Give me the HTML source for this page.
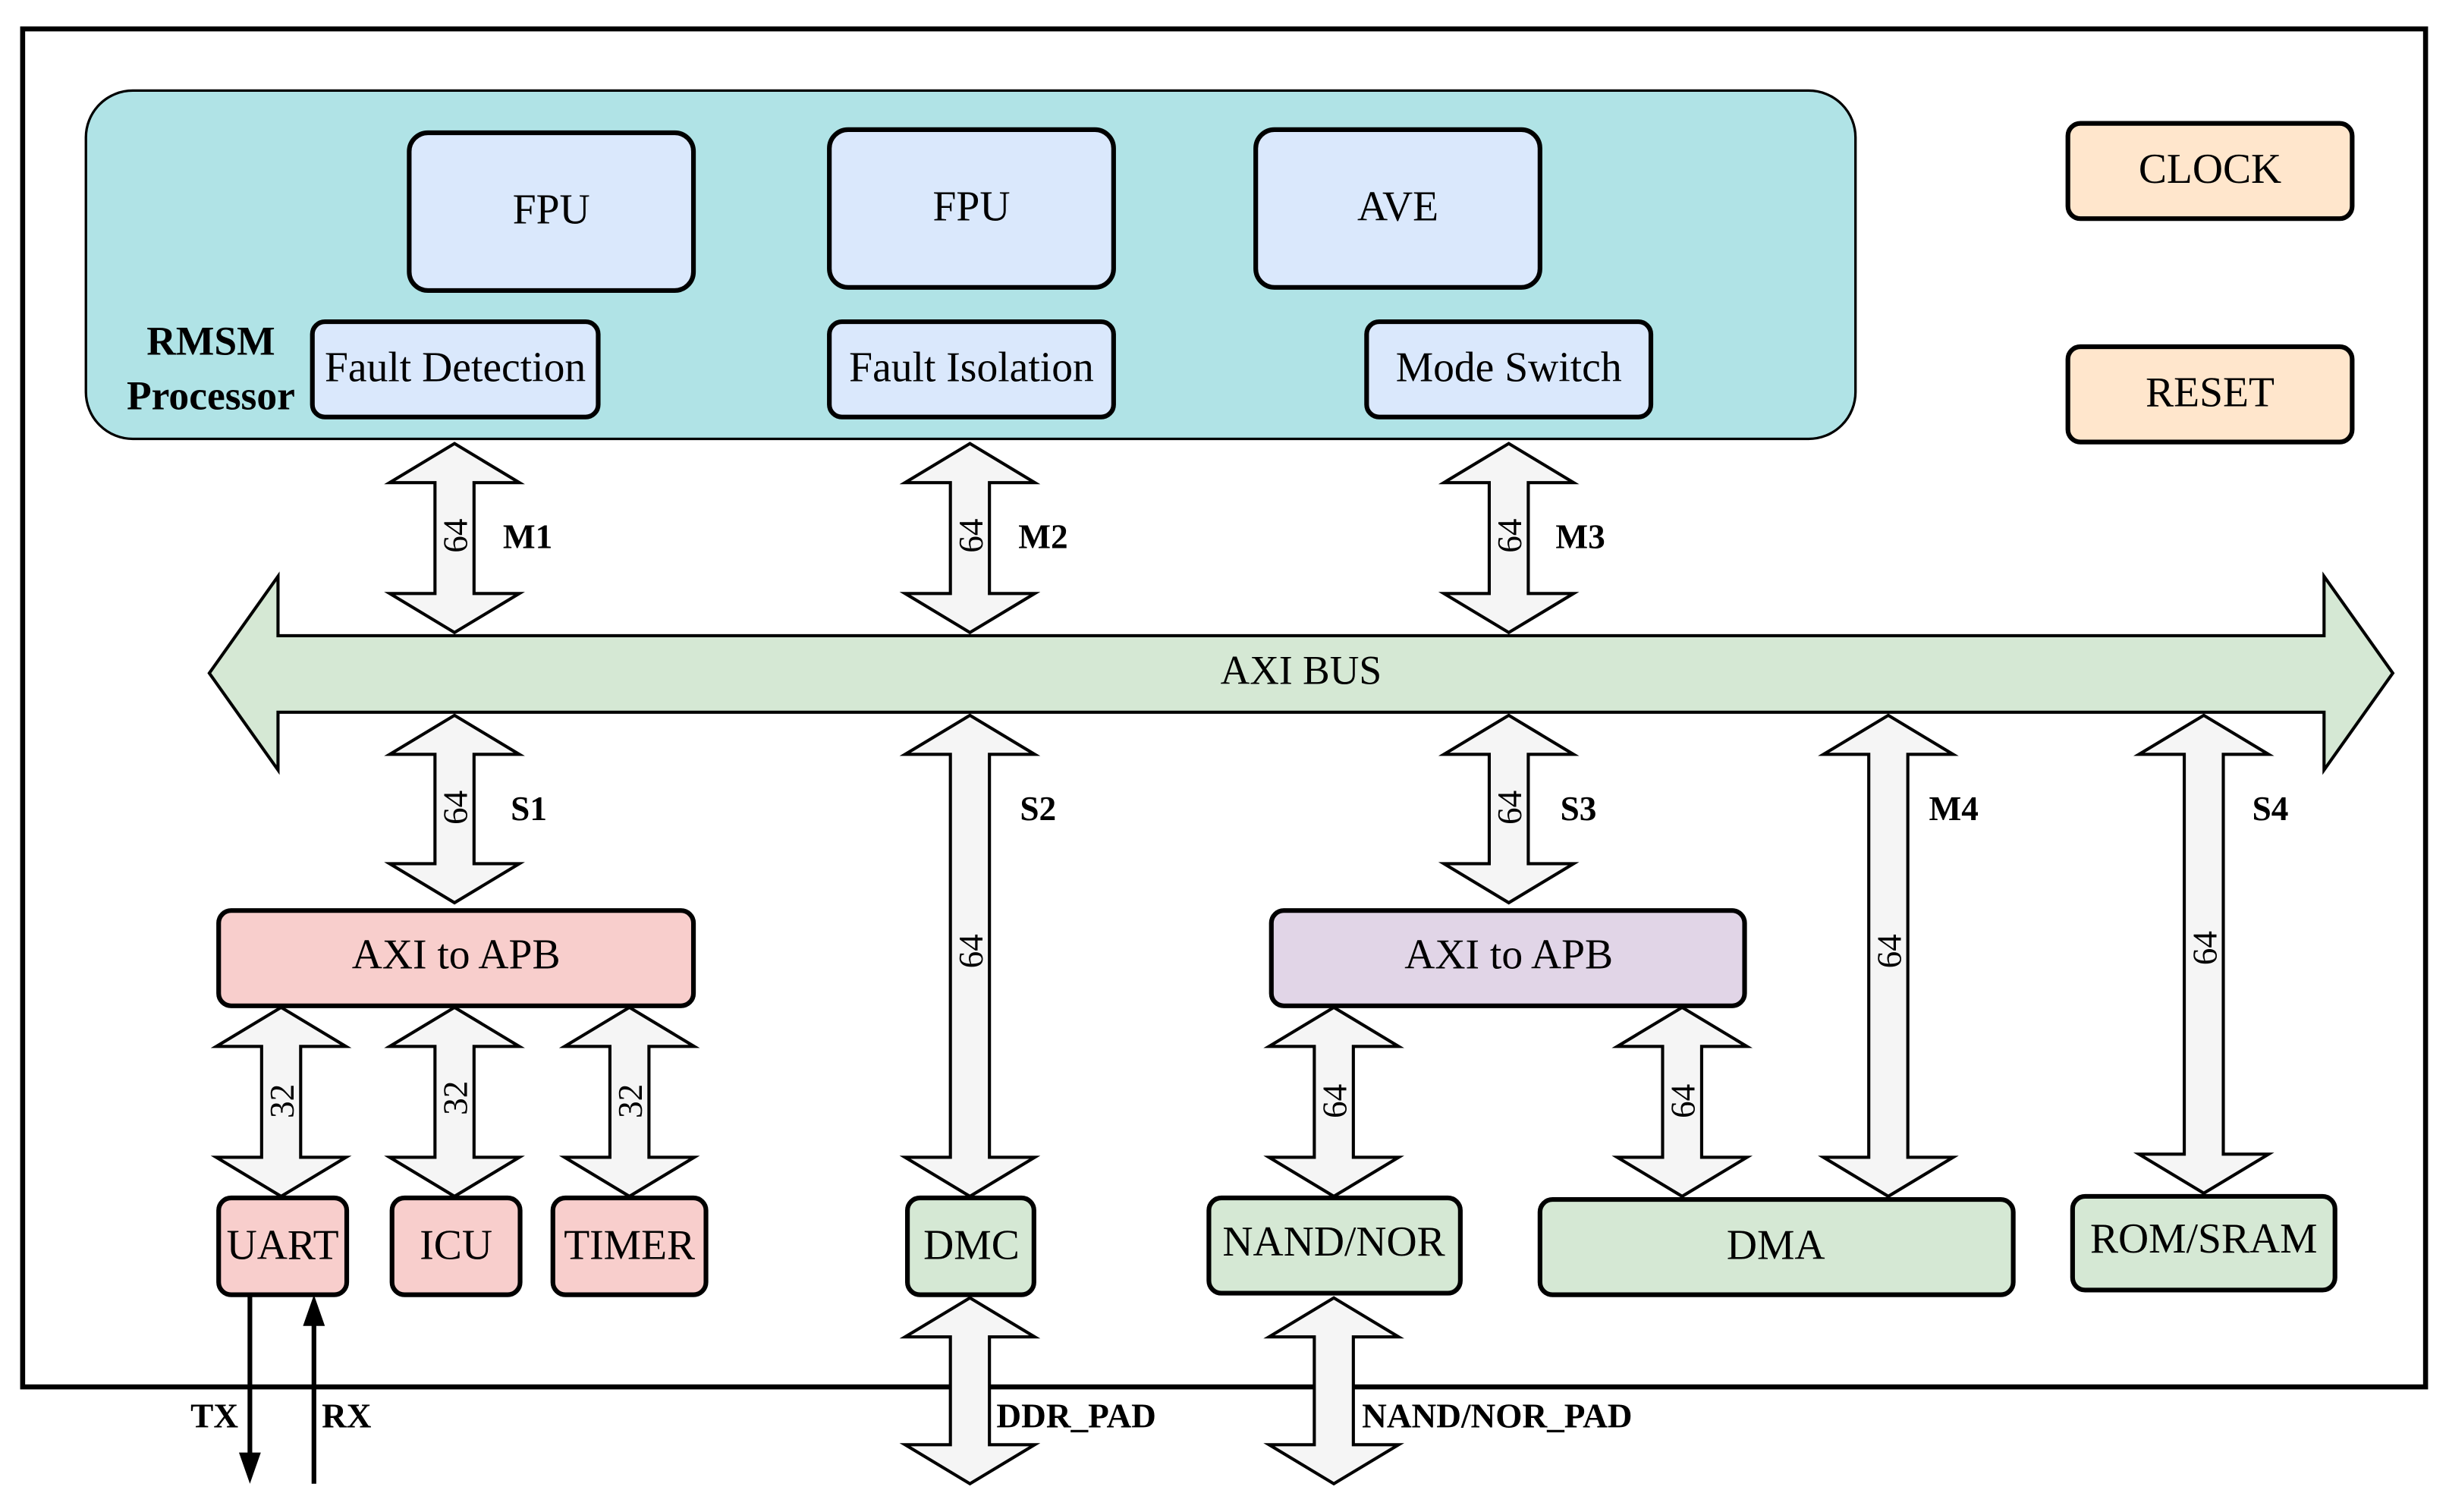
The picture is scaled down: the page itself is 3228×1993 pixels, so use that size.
<!DOCTYPE html>
<html><head><meta charset="utf-8"><style>html,body{margin:0;padding:0;background:#fff}svg{display:block}svg text{font-family:"Liberation Serif","Times New Roman",serif}</style></head>
<body>
<svg width="3228" height="1993" viewBox="0 0 1568 968.1" xmlns="http://www.w3.org/2000/svg">
<rect x="0" y="0" width="1568" height="968.1" fill="#fff"/>
<rect x="14.5" y="18.5" width="1538.5" height="869.5" fill="none" stroke="#000" stroke-width="3.2"/>
<rect x="55" y="58" width="1133" height="223" rx="30" fill="#b0e3e6" stroke="#000" stroke-width="1.6"/>
<g stroke="#000" stroke-width="3" fill="#dae8fc">
<rect x="262" y="85" width="182" height="101" rx="12"/>
<rect x="531" y="83" width="182" height="101" rx="12"/>
<rect x="804" y="83" width="182" height="101" rx="12"/>
<rect x="200" y="206" width="183" height="61" rx="8"/>
<rect x="531" y="206" width="182" height="61" rx="8"/>
<rect x="875" y="206" width="182" height="61" rx="8"/>
</g>
<g stroke="#000" stroke-width="3" fill="#ffe6cc">
<rect x="1324" y="79" width="182" height="61" rx="8"/>
<rect x="1324" y="222" width="182" height="61" rx="8"/>
</g>
<g font-size="27" text-anchor="middle" fill="#000">
<text x="353" y="143">FPU</text>
<text x="622" y="141">FPU</text>
<text x="895" y="141">AVE</text>
<text x="291.5" y="244">Fault Detection</text>
<text x="622" y="244">Fault Isolation</text>
<text x="966" y="244">Mode Switch</text>
<text x="1415" y="117">CLOCK</text>
<text x="1415" y="260">RESET</text>
</g>
<g font-size="26" font-weight="bold" text-anchor="middle">
<text x="135" y="227">RMSM</text>
<text x="135" y="262">Processor</text>
</g>
<polygon points="134,431 178,369 178,407 1488,407 1488,369 1532,431 1488,493 1488,456 178,456 178,493" fill="#d5e8d4" stroke="#000" stroke-width="2"/>
<text x="833" y="438" font-size="26" text-anchor="middle">AXI BUS</text>
<g fill="#f5f5f5" stroke="#000" stroke-width="2" stroke-linejoin="miter">
<path d="M291 284 l41.5 25 h-29 v71 h29 l-41.5 25 l-41.5 -25 h29 v-71 h-29 z"/>
<path d="M621 284 l41.5 25 h-29 v71 h29 l-41.5 25 l-41.5 -25 h29 v-71 h-29 z"/>
<path d="M966 284 l41.5 25 h-29 v71 h29 l-41.5 25 l-41.5 -25 h29 v-71 h-29 z"/>
<path d="M291 458 l41.5 25 h-29 v70 h29 l-41.5 25 l-41.5 -25 h29 v-70 h-29 z"/>
<path d="M966 458 l41.5 25 h-29 v70 h29 l-41.5 25 l-41.5 -25 h29 v-70 h-29 z"/>
<path d="M621 458 l41.5 25 h-29 v258 h29 l-41.5 25 l-41.5 -25 h29 v-258 h-29 z"/>
<path d="M1209 458 l41.5 25 h-29 v258 h29 l-41.5 25 l-41.5 -25 h29 v-258 h-29 z"/>
<path d="M1411 458 l41.5 25 h-29 v256 h29 l-41.5 25 l-41.5 -25 h29 v-256 h-29 z"/>
<path d="M180 645 l41.5 25 h-29 v71 h29 l-41.5 25 l-41.5 -25 h29 v-71 h-29 z"/>
<path d="M291 645 l41.5 25 h-29 v71 h29 l-41.5 25 l-41.5 -25 h29 v-71 h-29 z"/>
<path d="M403 645 l41.5 25 h-29 v71 h29 l-41.5 25 l-41.5 -25 h29 v-71 h-29 z"/>
<path d="M854 645 l41.5 25 h-29 v71 h29 l-41.5 25 l-41.5 -25 h29 v-71 h-29 z"/>
<path d="M1077 645 l41.5 25 h-29 v71 h29 l-41.5 25 l-41.5 -25 h29 v-71 h-29 z"/>
<path d="M621 831 l41.5 25 h-29 v69 h29 l-41.5 25 l-41.5 -25 h29 v-69 h-29 z"/>
<path d="M854 831 l41.5 25 h-29 v69 h29 l-41.5 25 l-41.5 -25 h29 v-69 h-29 z"/>
</g>
<g stroke="#000" stroke-width="3">
<rect x="140" y="583" width="304" height="61" rx="8" fill="#f8cecc"/>
<rect x="814" y="583" width="303" height="61" rx="8" fill="#e1d5e7"/>
<rect x="140" y="767" width="82" height="62" rx="8" fill="#f8cecc"/>
<rect x="251" y="767" width="82" height="62" rx="8" fill="#f8cecc"/>
<rect x="354" y="767" width="98" height="62" rx="8" fill="#f8cecc"/>
<rect x="581" y="767" width="81" height="62" rx="8" fill="#d5e8d4"/>
<rect x="774" y="767" width="161" height="61" rx="8" fill="#d5e8d4"/>
<rect x="986" y="768" width="303" height="61" rx="8" fill="#d5e8d4"/>
<rect x="1327" y="766" width="168" height="60" rx="8" fill="#d5e8d4"/>
</g>
<g font-size="27" text-anchor="middle">
<text x="292" y="620">AXI to APB</text>
<text x="966" y="620">AXI to APB</text>
<text x="181" y="806">UART</text>
<text x="292" y="806">ICU</text>
<text x="403" y="806">TIMER</text>
<text x="622" y="806">DMC</text>
<text x="854" y="804">NAND/NOR</text>
<text x="1137" y="806">DMA</text>
<text x="1411" y="802">ROM/SRAM</text>
</g>
<g stroke="#000" stroke-width="3">
<line x1="160" y1="829" x2="160" y2="932"/>
<line x1="201" y1="950" x2="201" y2="846"/>
</g>
<polygon points="153,930 167,930 160,950" fill="#000"/>
<polygon points="194,849 208,849 201,829" fill="#000"/>
<g font-size="22" font-weight="bold">
<text x="322" y="351">M1</text>
<text x="652" y="351">M2</text>
<text x="996" y="351">M3</text>
<text x="327" y="525">S1</text>
<text x="653" y="525">S2</text>
<text x="999" y="525">S3</text>
<text x="1235" y="525">M4</text>
<text x="1442" y="525">S4</text>
<text x="122" y="914">TX</text>
<text x="206" y="914">RX</text>
<text x="638" y="914">DDR_PAD</text>
<text x="872" y="914">NAND/NOR_PAD</text>
</g>
<g font-size="22" text-anchor="middle">
<text transform="translate(299,343) rotate(-90)">64</text>
<text transform="translate(629,343) rotate(-90)">64</text>
<text transform="translate(974,343) rotate(-90)">64</text>
<text transform="translate(299,517) rotate(-90)">64</text>
<text transform="translate(974,517) rotate(-90)">64</text>
<text transform="translate(629,609) rotate(-90)">64</text>
<text transform="translate(1217,609) rotate(-90)">64</text>
<text transform="translate(1419,607) rotate(-90)">64</text>
<text transform="translate(188,705) rotate(-90)">32</text>
<text transform="translate(299,703) rotate(-90)">32</text>
<text transform="translate(411,705) rotate(-90)">32</text>
<text transform="translate(862,705) rotate(-90)">64</text>
<text transform="translate(1085,705) rotate(-90)">64</text>
</g>
</svg>
</body></html>
